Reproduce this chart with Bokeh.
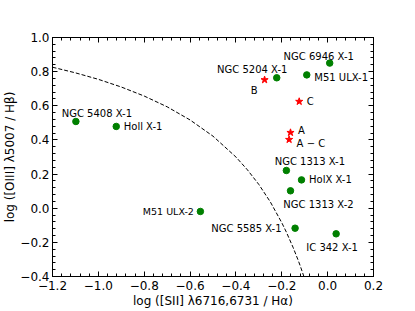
from bokeh.plotting import figure
from bokeh.models import LinearAxis, FixedTicker, CustomJSTickFormatter
from bokeh.core.properties import value
from bokeh.embed import file_html
from bokeh.resources import INLINE

# ---- data ----
ulx_names = ["NGC 5408 X-1", "Holl X-1", "NGC 6946 X-1", "NGC 5204 X-1", "M51 ULX-1",
             "NGC 1313 X-1", "HolX X-1", "NGC 1313 X-2", "M51 ULX-2", "NGC 5585 X-1", "IC 342 X-1"]
ulx_sii = [-1.098, -0.922, 0.009, -0.222, -0.091, -0.180, -0.114, -0.162, -0.555, -0.142, 0.037]
ulx_oiii = [0.508, 0.479, 0.850, 0.764, 0.781, 0.221, 0.166, 0.102, -0.019, -0.117, -0.150]

region_names = ["B", "C", "A", "A \u2212 C"]
region_sii = [-0.275, -0.124, -0.162, -0.168]
region_oiii = [0.752, 0.625, 0.443, 0.402]

curve_sii = [-1.20, -1.10, -1.00, -0.90, -0.80, -0.70, -0.60, -0.50, -0.40, -0.35,
             -0.30, -0.25, -0.20, -0.18, -0.15, -0.13, -0.12, -0.10]
curve_oiii = [0.826, 0.793, 0.755, 0.710, 0.657, 0.594, 0.517, 0.422, 0.300, 0.225,
              0.139, 0.037, -0.085, -0.140, -0.232, -0.300, -0.336, -0.414]

x_ticks = [-1.2, -1.0, -0.8, -0.6, -0.4, -0.2, 0.0, 0.2]
y_ticks = [-0.4, -0.2, 0.0, 0.2, 0.4, 0.6, 0.8, 1.0]

# ---- label layout (screen-pixel offsets from each point) ----
label_layout = {
    "NGC 5408 X-1": (21, -8, "center", "alphabetic"),
    "Holl X-1": (7.5, 0, "left", "middle"),
    "NGC 6946 X-1": (-11, -7, "center", "alphabetic"),
    "NGC 5204 X-1": (-24.5, -8.5, "center", "alphabetic"),
    "M51 ULX-1": (7.5, 2.5, "left", "middle"),
    "NGC 1313 X-1": (23.5, -9, "center", "alphabetic"),
    "HolX X-1": (7.5, 0, "left", "middle"),
    "NGC 1313 X-2": (28, 13.5, "center", "alphabetic"),
    "M51 ULX-2": (-6.5, 0, "right", "middle"),
    "NGC 5585 X-1": (-13.5, 0, "right", "middle"),
    "IC 342 X-1": (-4, 14, "center", "alphabetic"),
    "B": (-10.5, 10.5, "center", "alphabetic"),
    "C": (7.5, 0, "left", "middle"),
    "A": (7.5, -2, "left", "middle"),
    "A \u2212 C": (7.5, 3.5, "left", "middle"),
}

FONT = "DejaVu Sans"

p = figure(width=415, height=311, x_range=(-1.2, 0.2), y_range=(-0.4, 1.0),
           output_backend="svg", toolbar_location=None,
           min_border_left=52, min_border_right=42, min_border_top=37, min_border_bottom=35)
p.background_fill_color = "white"
p.border_fill_color = "white"
p.outline_line_color = "black"
p.outline_line_width = 1
p.xgrid.visible = False
p.ygrid.visible = False

bottom = p.below[0]
left = p.left[0]

fmt = CustomJSTickFormatter(code="return tick.toFixed(1).replace('-', '\u2212');")
blank = CustomJSTickFormatter(code="return '';")

x_minor = [round(-1.2 + 0.04 * i, 2) for i in range(36)]
y_minor = [round(-0.4 + 0.04 * i, 2) for i in range(36)]

top = LinearAxis()
right = LinearAxis()
p.add_layout(top, "above")
p.add_layout(right, "right")

for ax, ticks, minor in [(bottom, x_ticks, x_minor), (left, y_ticks, y_minor),
                         (top, x_ticks, x_minor), (right, y_ticks, y_minor)]:
    ax.ticker = FixedTicker(ticks=ticks, minor_ticks=minor)
    ax.formatter = fmt
    ax.major_tick_in = 5
    ax.major_tick_out = 0
    ax.minor_tick_in = 3
    ax.minor_tick_out = 0
    ax.axis_line_color = "black"
    ax.major_tick_line_color = "black"
    ax.minor_tick_line_color = "black"
    ax.major_label_text_font = FONT
    ax.major_label_text_font_size = "12px"
    ax.major_label_text_color = "black"
    ax.major_label_standoff = 4
    ax.axis_label_text_font = FONT
    ax.axis_label_text_font_size = "12px"
    ax.axis_label_text_font_style = "normal"
    ax.axis_label_text_color = "black"
    ax.axis_label_standoff = 1

for ax in (top, right):
    ax.formatter = blank
    ax.major_label_standoff = 0
    ax.axis_label_standoff = 0

bottom.axis_label = "log ([SII] \u03bb6716,6731 / H\u03b1)"
left.axis_label = "log ([OIII] \u03bb5007 / H\u03b2)"
left.major_label_standoff = 3
left.axis_label_standoff = 0

# demarcation curve
p.line(curve_sii, curve_oiii, line_color="black", line_width=1, line_dash="4 2")

# points
p.scatter(ulx_sii, ulx_oiii, marker="circle", size=6.5, fill_color="green", line_color="green")
p.scatter(region_sii, region_oiii, marker="star", size=7.5, fill_color="red", line_color="red")

# labels
for names, xs, ys in [(ulx_names, ulx_sii, ulx_oiii), (region_names, region_sii, region_oiii)]:
    for name, xv, yv in zip(names, xs, ys):
        dx, dy, align, base = label_layout[name]
        size = "9.5px" if name == "M51 ULX-2" else "10px"
        p.text(x=[xv], y=[yv], text=[name], x_offset=dx, y_offset=dy,
               text_align=align, text_baseline=base, text_font=value(FONT),
               text_font_size=size, text_color="black")

open("out.html", "w").write(file_html(p, INLINE))
